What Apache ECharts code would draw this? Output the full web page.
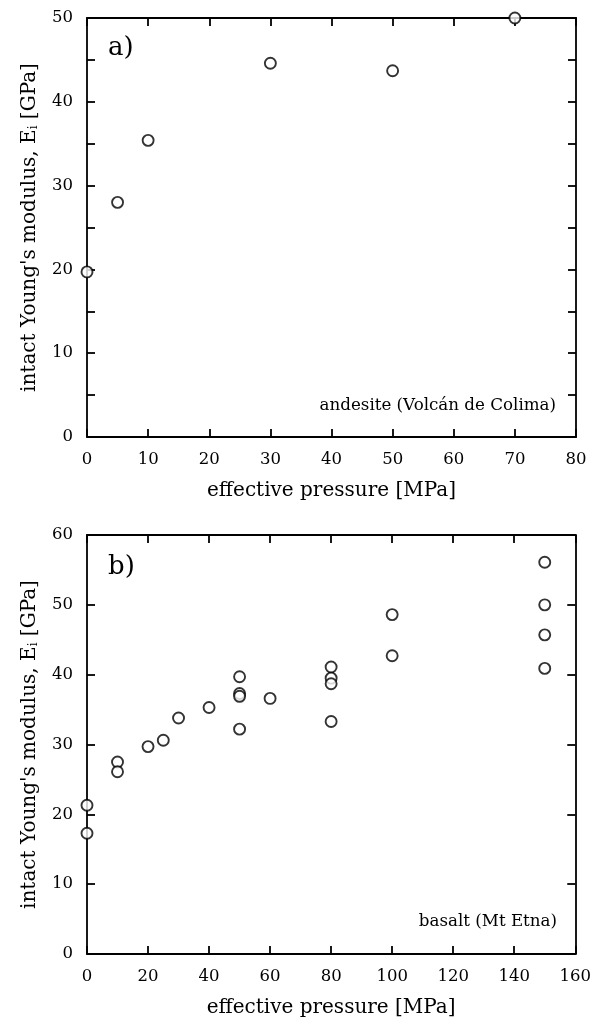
<!DOCTYPE html>
<html><head><meta charset="utf-8">
<script src="https://cdn.jsdelivr.net/npm/echarts@6/dist/echarts.min.js"></script>
<style>html,body{margin:0;padding:0;background:#fff}#c{width:594px;height:1023px}</style>
</head><body><div id="c"></div>
<script>
// panel a) andesite (Volcán de Colima)
const pressureA = [0, 5, 10, 30, 50, 70];
const modulusA = [19.7, 28.0, 35.4, 44.6, 43.7, 50.0];
// panel b) basalt (Mt Etna)
const pressureB = [0, 0, 10, 10, 20, 25, 30, 40, 50, 50, 50, 50, 60, 80, 80, 80, 80, 100, 100, 150, 150, 150, 150];
const modulusB = [21.3, 17.3, 27.5, 26.1, 29.7, 30.6, 33.8, 35.3, 39.7, 37.3, 36.9, 32.2, 36.6, 41.1, 39.5, 38.7, 33.3, 48.6, 42.7, 56.1, 50.0, 45.7, 40.9];
// axis ranges / tick steps
const xRangeA = [0, 80, 10];
const yRangeA = [0, 50, 10];
const xRangeB = [0, 160, 20];
const yRangeB = [0, 60, 10];
const xTitle = 'effective pressure [MPa]';
const yTitle = "intact Young's modulus, E{sub|i} [GPa]";
const labelA = 'a)';
const labelB = 'b)';
const noteA = 'andesite (Volcán de Colima)';
const noteB = 'basalt (Mt Etna)';

const FONT = 'DejaVu Serif';
const lineS = {color: '#000', width: 1.8};

function xAx(grid, r, pos, show) {
  return {
    type: 'value', gridIndex: grid, position: pos, min: r[0], max: r[1], interval: r[2],
    axisLine: {show: true, onZero: false, lineStyle: lineS},
    axisTick: {show: true, inside: true, length: 8, lineStyle: lineS},
    axisLabel: {show: show, color: '#000', fontSize: 16.5, fontFamily: FONT, margin: 14},
    splitLine: {show: false},
    name: show ? xTitle : '', nameLocation: 'middle', nameGap: 44,
    nameTextStyle: {color: '#000', fontSize: 20, fontFamily: FONT}
  };
}
function yAx(grid, r, pos, show, minor) {
  return {
    type: 'value', gridIndex: grid, position: pos, min: r[0], max: r[1], interval: r[2],
    axisLine: {show: true, onZero: false, lineStyle: lineS},
    axisTick: {show: true, inside: true, length: 8, lineStyle: lineS},
    minorTick: {show: minor, splitNumber: 2, length: 8, lineStyle: lineS},
    axisLabel: {show: show, color: '#000', fontSize: 16.5, fontFamily: FONT, margin: 14},
    splitLine: {show: false},
    name: show ? yTitle : '', nameLocation: 'middle', nameGap: 47,
    nameTextStyle: {color: '#000', fontSize: 20, fontFamily: FONT,
      rich: {sub: {fontSize: 12, fontFamily: FONT, color: '#000', verticalAlign: 'bottom', padding: [9, 0, 0, 0]}}}
  };
}
const sym = {symbol: 'circle', symbolSize: 11, itemStyle: {color: '#fff', borderColor: '#000', borderWidth: 1.9}};

const chart = echarts.init(document.getElementById('c'), null, {renderer: 'canvas'});
chart.setOption({
  backgroundColor: '#fff',
  animation: false,
  grid: [
    {left: 87, top: 18, width: 489, height: 419},
    {left: 87, top: 535, width: 489, height: 419}
  ],
  xAxis: [xAx(0, xRangeA, 'bottom', true), xAx(0, xRangeA, 'top', false),
          xAx(1, xRangeB, 'bottom', true), xAx(1, xRangeB, 'top', false)],
  yAxis: [yAx(0, yRangeA, 'left', true, true), yAx(0, yRangeA, 'right', false, true),
          yAx(1, yRangeB, 'left', true, false), yAx(1, yRangeB, 'right', false, false)],
  series: [
    Object.assign({type: 'scatter', xAxisIndex: 0, yAxisIndex: 0, clip: false,
      data: pressureA.map((p, i) => [p, modulusA[i]])}, sym),
    Object.assign({type: 'scatter', xAxisIndex: 2, yAxisIndex: 2, clip: false,
      data: pressureB.map((p, i) => [p, modulusB[i]])}, sym)
  ],
  graphic: [
    {type: 'text', left: 108, top: 35, style: {text: labelA, fontSize: 26, fontFamily: FONT, fill: '#000'}},
    {type: 'text', left: 108, top: 554, style: {text: labelB, fontSize: 26, fontFamily: FONT, fill: '#000'}},
    {type: 'text', right: 38, top: 397, style: {text: noteA, fontSize: 16.7, fontFamily: FONT, fill: '#000'}},
    {type: 'text', right: 37, top: 913, style: {text: noteB, fontSize: 16.7, fontFamily: FONT, fill: '#000'}}
  ]
});
</script>
</body></html>
